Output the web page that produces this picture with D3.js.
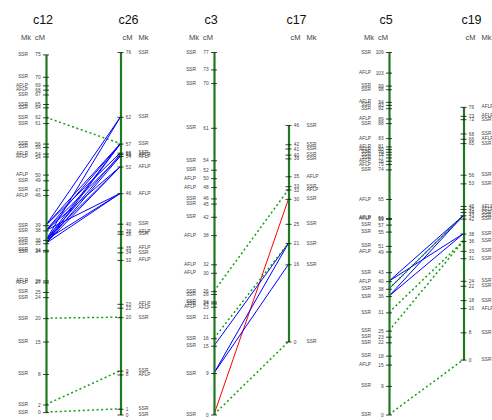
<!DOCTYPE html>
<html>
<head>
<meta charset="utf-8">
<script src="https://cdn.jsdelivr.net/npm/d3@7"></script>
<style>
  html, body { margin: 0; padding: 0; background: #fff; }
  svg { display: block; font-family: "Liberation Sans", Arial, sans-serif; }
</style>
</head>
<body>
<div id="chart"></div>
<script>
// Маркеры: [cM, тип маркера]
const c12Markers = [
  [75, "SSR"], [70.3, "SSR"], [68.5, "AFLP"], [67.6, "AFLP"], [66.6, "SSR"],
  [64.6, "SSR"], [63.9, "SSR"], [61.8, "SSR"], [60.6, "SSR"],
  [56.3, "SSR"], [55.6, "SSR"], [54.2, "AFLP"], [53.6, "AFLP"],
  [49.8, "AFLP"], [48.6, "SSR"], [46.6, "SSR"], [45.5, "AFLP"],
  [39.2, "SSR"], [38.1, "SSR"], [36.1, "SSR"], [35.4, "SSR"], [34.0, "SSR"], [33.7, "SSR"],
  [27.6, "AFLP"], [27.2, "AFLP"], [25.2, "SSR"], [24.1, "SSR"], [19.7, "SSR"],
  [14.8, "SSR"], [8.0, "SSR"], [1.6, "SSR"], [0, "SSR"]
];
const c26Markers = [
  [76, "SSR"], [62.4, "SSR"], [56.8, "SSR"], [54.9, "SSR"], [54.6, "AFLP"], [54.2, "AFLP"],
  [52.0, "AFLP"], [46.4, "AFLP"], [40.0, "SSR"], [38.4, "AFLP"], [37.9, "SSR"],
  [35.0, "AFLP"], [34.0, "SSR"], [32.4, "AFLP"], [23.2, "AFLP"], [22.4, "AFLP"],
  [20.4, "SSR"], [9.2, "SSR"], [8.4, "AFLP"], [1.2, "SSR"], [0, "SSR"]
];
const c3Markers = [
  [77, "SSR"], [73.3, "SSR"], [70.4, "SSR"], [60.9, "SSR"], [54.0, "SSR"], [52.0, "SSR"],
  [50.2, "AFLP"], [48.3, "AFLP"], [45.9, "SSR"], [44.8, "SSR"], [42.0, "SSR"], [38.1, "AFLP"],
  [31.9, "AFLP"], [30.1, "AFLP"], [26.2, "SSR"], [25.6, "SSR"], [24.0, "SSR"], [23.6, "SSR"],
  [22.9, "AFLP"], [20.7, "SSR"], [16.2, "SSR"], [14.6, "SSR"], [8.8, "SSR"], [0, "SSR"]
];
const c17Markers = [
  [46, "SSR"], [41.9, "SSR"], [41.0, "SSR"], [39.7, "SSR"], [38.9, "SSR"], [35.1, "AFLP"],
  [33.0, "SSR"], [32.3, "AFLP"], [30.3, "SSR"], [25.0, "SSR"], [20.9, "SSR"], [16.4, "SSR"],
  [0, "SSR"]
];
const c5Markers = [
  [109, "SSR"], [102.8, "AFLP"], [98.9, "SSR"], [97.8, "SSR"], [94.0, "AFLP"], [93.1, "SSR"],
  [92.1, "SSR"], [89.0, "AFLP"], [87.6, "SSR"], [83.1, "AFLP"], [80.6, "AFLP"], [79.8, "AFLP"],
  [79.0, "SSR"], [78.2, "SSR"], [77.3, "SSR"], [76.3, "AFLP"], [75.3, "AFLP"], [73.7, "SSR"],
  [64.8, "AFLP"], [59.1, "AFLP"], [58.8, "AFLP"], [57.1, "SSR"], [55.0, "SSR"], [50.7, "SSR"],
  [49.0, "AFLP"], [42.8, "SSR"], [40.1, "AFLP"], [37.8, "SSR"], [35.6, "SSR"], [30.7, "SSR"],
  [25.2, "SSR"], [23.4, "SSR"], [21.7, "SSR"], [17.7, "SSR"], [15.0, "AFLP"], [8.6, "SSR"],
  [0, "SSR"]
];
const c19Markers = [
  [76, "AFLP"], [73.3, "AFLP"], [72.3, "SSR"], [68.0, "SSR"], [66.4, "AFLP"], [65.1, "SSR"],
  [55.6, "SSR"], [53.0, "SSR"], [46.2, "AFLP"], [45.3, "AFLP"], [44.4, "SSR"], [43.4, "SSR"],
  [42.4, "SSR"], [37.9, "SSR"], [35.7, "SSR"], [32.7, "SSR"], [30.5, "SSR"], [23.7, "SSR"],
  [22.2, "SSR"], [17.9, "SSR"], [15.5, "AFLP"], [8.2, "SSR"], [0, "SSR"]
];

// Связи: [cM слева, cM справа, вид линии]
const c12c26Links = [
  [61.8, 56.8, "dot"], [19.7, 20.4, "dot"], [1.6, 9.2, "dot"], [0, 1.2, "dot"],
  [39.2, 62.4, "blue"], [36.1, 62.4, "blue"],
  [39.2, 56.8, "blue"], [38.1, 56.8, "blue"], [36.1, 56.8, "blue"], [35.4, 56.8, "blue"],
  [39.2, 54.9, "blue"], [38.1, 54.2, "blue"], [36.1, 54.6, "blue"], [35.4, 54.2, "blue"],
  [38.1, 52.0, "blue"], [36.1, 52.0, "blue"], [35.4, 52.0, "blue"],
  [38.1, 46.4, "blue"], [36.1, 46.4, "blue"], [35.4, 46.4, "blue"]
];
const c3c17Links = [
  [0, 0, "dot"], [0, 30.3, "red"], [8.8, 20.9, "blue"], [8.8, 16.4, "blue"],
  [14.6, 20.9, "blue"], [16.2, 20.9, "dot"], [26.2, 32.3, "dot"]
];
const c5c19Links = [
  [0, 0, "dot"], [30.7, 35.7, "dot"], [25.2, 35.7, "dot"],
  [40.1, 43.4, "blue"], [40.1, 37.9, "blue"], [37.8, 43.4, "blue"], [37.8, 43.4, "dot"],
  [35.6, 43.4, "blue"], [35.6, 37.9, "blue"]
];

const pairs = [
  { left: "c12", right: "c26", leftData: c12Markers, rightData: c26Markers, links: c12c26Links },
  { left: "c3", right: "c17", leftData: c3Markers, rightData: c17Markers, links: c3c17Links },
  { left: "c5", right: "c19", leftData: c5Markers, rightData: c19Markers, links: c5c19Links }
];

const width = 492, height = 420;
const plotTop = 52, plotBottom = 414.5;
const pairX = [46, 214, 389]; // x левой хромосомы в паре
const pairGap = 74.5;
const tickHalf = 3;
const labelSize = 4.8;

const linkStyle = {
  blue: { stroke: "#0000ff", width: 1, dash: null },
  red: { stroke: "#ff0000", width: 1, dash: null },
  dot: { stroke: "#12a012", width: 1.5, dash: "2,2.6" }
};

const svg = d3.select("#chart")
  .append("svg")
  .attr("width", width)
  .attr("height", height)
  .attr("viewBox", `0 0 ${width} ${height}`);

pairs.forEach((pair, p) => {
  const xL = pairX[p];
  const xR = xL + pairGap;
  const lenL = d3.max(pair.leftData, (d) => d[0]);
  const lenR = d3.max(pair.rightData, (d) => d[0]);
  const pxPerCm = (plotBottom - plotTop) / Math.max(lenL, lenR);
  const mid = (plotTop + plotBottom) / 2;

  // Каждая хромосома центрируется по вертикали, масштаб общий для пары.
  const makeScale = (len) =>
    d3.scaleLinear()
      .domain([0, len])
      .range([mid + (len * pxPerCm) / 2, mid - (len * pxPerCm) / 2]);

  const yL = makeScale(lenL);
  const yR = makeScale(lenR);

  // Линии связей
  const linkGroup = svg.append("g").attr("class", "links");
  linkGroup.selectAll("line")
    .data(pair.links)
    .join("line")
    .attr("x1", xL)
    .attr("y1", (d) => yL(d[0]))
    .attr("x2", xR)
    .attr("y2", (d) => yR(d[1]))
    .attr("stroke", (d) => linkStyle[d[2]].stroke)
    .attr("stroke-width", (d) => linkStyle[d[2]].width)
    .attr("stroke-dasharray", (d) => linkStyle[d[2]].dash);

  const drawChromosome = (name, data, yScale, x, side) => {
    const isLeft = side === "left";
    const axis = (isLeft ? d3.axisLeft(yScale) : d3.axisRight(yScale))
      .tickValues(data.map((d) => d[0]))
      .tickFormat((v) => Math.round(v))
      .tickSize(tickHalf)
      .tickSizeOuter(0)
      .tickPadding(2.3);

    const g = svg.append("g")
      .attr("transform", `translate(${x},0)`)
      .call(axis);

    g.attr("font-size", labelSize).attr("font-family", null);
    g.select(".domain")
      .attr("stroke", "#1f7a1f")
      .attr("stroke-width", 2.2);
    g.selectAll(".tick line")
      .attr("x1", isLeft ? tickHalf : -tickHalf)
      .attr("stroke", "#111")
      .attr("stroke-width", 0.8);
    g.selectAll(".tick text").attr("fill", "#444");

    // Тип маркера
    g.selectAll(".mk")
      .data(data)
      .join("text")
      .attr("class", "mk")
      .attr("x", isLeft ? -18 : 18)
      .attr("y", (d) => yScale(d[0]))
      .attr("dy", "0.32em")
      .attr("text-anchor", isLeft ? "end" : "start")
      .attr("font-size", labelSize)
      .attr("fill", "#444")
      .text((d) => d[1]);

    // Заголовки
    g.append("text")
      .attr("x", isLeft ? -3 : 8)
      .attr("y", 23.5)
      .attr("text-anchor", "middle")
      .attr("font-size", 12.5)
      .attr("fill", "#111")
      .text(name);

    g.append("text")
      .attr("x", isLeft ? -1 : 2)
      .attr("y", 40)
      .attr("text-anchor", isLeft ? "end" : "start")
      .attr("font-size", 7.5)
      .attr("fill", "#444")
      .text("cM");

    g.append("text")
      .attr("x", isLeft ? -15 : 18)
      .attr("y", 40)
      .attr("text-anchor", isLeft ? "end" : "start")
      .attr("font-size", 7.5)
      .attr("fill", "#444")
      .text("Mk");
  };

  drawChromosome(pair.left, pair.leftData, yL, xL, "left");
  drawChromosome(pair.right, pair.rightData, yR, xR, "right");
});
</script>
</body>
</html>
